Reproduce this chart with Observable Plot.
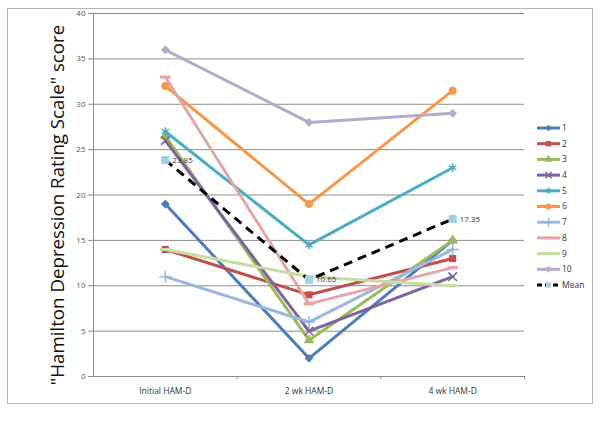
<!DOCTYPE html>
<html><head><meta charset="utf-8">
<script src="https://cdn.jsdelivr.net/npm/d3@7"></script>
<script src="https://cdn.jsdelivr.net/npm/@observablehq/plot@0.6"></script>
<style>body{margin:0;background:#fff;} #chart{width:600px;height:421px;}</style>
</head><body><div id="chart"></div>
<script>
const categories = ["Initial HAM-D", "2 wk HAM-D", "4 wk HAM-D"];
const seriesNames = ["1","2","3","4","5","6","7","8","9","10","Mean"];
const s1 = [19, 2, 15];
const s2 = [14, 9, 13];
const s3 = [26.5, 4, 15];
const s4 = [26, 5, 11];
const s5 = [27, 14.5, 23];
const s6 = [32, 19, 31.5];
const s7 = [11, 6, 14];
const s8 = [33, 8, 12];
const s9 = [14, 11, 10];
const s10 = [36, 28, 29];
const meanValues = [23.85, 10.65, 17.35];
const yTicks = [0, 5, 10, 15, 20, 25, 30, 35, 40];
const colors = ["#4a7ebb","#c0504d","#9bbb59","#7f63a1","#4bacc6","#f79646","#9bb7dc","#e3a6a5","#c9dca5","#b7a8cc","#000000"];
const symbolNames = ["diamond2","square","triangle","times","asterisk","circle","plus","dash","dash","diamond2","square"];

const dash = {draw(ctx, size){ const w = Math.sqrt(size) * 0.75; ctx.rect(-w, -1.5, 2 * w, 3); }};
const d3Sym = {diamond2: d3.symbolDiamond2, square: d3.symbolSquare, triangle: d3.symbolTriangle, times: d3.symbolTimes, asterisk: d3.symbolAsterisk, circle: d3.symbolCircle, plus: d3.symbolPlus, dash: dash};
const strokeOnly = new Set(["times","asterisk","plus"]);

const allValues = [s1,s2,s3,s4,s5,s6,s7,s8,s9,s10,meanValues];
const rows = allValues.map((vals, si) => vals.map((v, i) => ({series: seriesNames[si], idx: i, value: v})));

const seriesMarks = [];
rows.forEach((data, si) => {
  const isMean = seriesNames[si] === "Mean";
  seriesMarks.push(Plot.line(data, {x: "idx", y: "value", stroke: colors[si], strokeWidth: 3,
    strokeDasharray: isMean ? "9,6" : null, strokeLinecap: isMean ? "butt" : "round"}));
  const sym = symbolNames[si] === "dash" ? dash : symbolNames[si];
  const so = strokeOnly.has(symbolNames[si]);
  seriesMarks.push(Plot.dot(data, {x: "idx", y: "value", symbol: sym, r: 4,
    fill: so ? "none" : (isMean ? "#9fd3e4" : colors[si]),
    stroke: so ? colors[si] : (isMean ? "#9fd3e4" : "none"), strokeWidth: so ? 1.5 : 1}));
});

const boundaries = d3.range(categories.length + 1).map(i => i - 0.5);

const chart = Plot.plot({
  width: 600, height: 421,
  marginLeft: 93, marginRight: 76, marginTop: 13, marginBottom: 45,
  x: {type: "linear", domain: [-0.5, categories.length - 0.5]},
  y: {domain: [0, 40]},
  style: {fontFamily: "'Open Sans', sans-serif", background: "white"},
  marks: [
    Plot.gridY(yTicks.slice(1), {stroke: "#8c8c8c", strokeOpacity: 1}),
    Plot.ruleY([0], {stroke: "#8c8c8c"}),
    Plot.ruleX([boundaries[0]], {stroke: "#8c8c8c"}),
    Plot.axisY(yTicks, {tickSize: 5, tickPadding: 3, fontSize: 8, color: "#8c8c8c", fill: "#555", label: null}),
    Plot.axisX(d3.range(categories.length), {tickSize: 0, tickPadding: 11, tickFormat: i => categories[i], fontSize: 8.5, fill: "#333", label: null}),
    Plot.axisX(boundaries.slice(1), {tickSize: 3, tickFormat: () => "", stroke: "#8c8c8c", label: null}),
    ...seriesMarks,
    Plot.text(rows[10], {x: "idx", y: "value", text: d => d3.format(".2f")(d.value), dx: 7, textAnchor: "start", fontSize: 8, fill: "#333"}),
    Plot.text(['"Hamilton Depression Rating Scale" score'], {frameAnchor: "left", textAnchor: "middle", rotate: -90, dx: -30, dy: 10, lineAnchor: "bottom", fontSize: 18.7, fill: "#111"})
  ]
});
document.getElementById("chart").appendChild(chart);

const svg = d3.select(chart);
svg.append("rect").attr("x", 7.5).attr("y", 8.5).attr("width", 585).attr("height", 395)
  .attr("fill", "none").attr("stroke", "#b5b5b5");

const legend = svg.append("g").attr("font-family", "'Open Sans', sans-serif").attr("font-size", 8.5).attr("text-anchor", "start");
seriesNames.forEach((name, i) => {
  const y = 128 + i * 15.7;
  const isMean = name === "Mean";
  legend.append("line").attr("x1", 537).attr("x2", 560).attr("y1", y).attr("y2", y)
    .attr("stroke", colors[i]).attr("stroke-width", 3).attr("stroke-dasharray", isMean ? "5,3" : null);
  const so = strokeOnly.has(symbolNames[i]);
  legend.append("path").attr("transform", `translate(548.5,${y})`)
    .attr("d", d3.symbol(d3Sym[symbolNames[i]], Math.PI * 9)())
    .attr("fill", so ? "none" : (isMean ? "#9fd3e4" : colors[i]))
    .attr("stroke", so ? colors[i] : "none").attr("stroke-width", 1.5);
  legend.append("text").attr("x", 562).attr("y", y).attr("dy", "0.35em").attr("text-anchor", "start").attr("fill", "#333").text(name);
});
</script></body></html>
